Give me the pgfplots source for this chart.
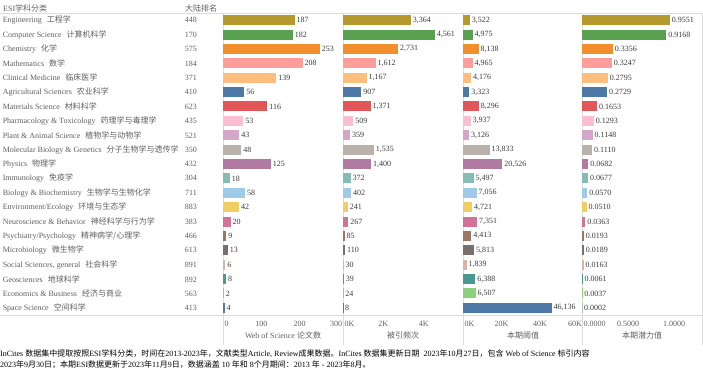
\documentclass[border=0pt]{standalone}
\usepackage{pgfplots}
\pgfplotsset{compat=1.18}
\usepackage{fontspec}
\setmainfont{Liberation Serif}
\newfontfamily\cjk{Noto Sans CJK SC}
\newcommand\zh[1]{{\cjk #1}}
\definecolor{c1}{HTML}{B6992D}
\definecolor{c2}{HTML}{59A14F}
\definecolor{c3}{HTML}{F28E2B}
\definecolor{c4}{HTML}{FF9D9A}
\definecolor{c5}{HTML}{FFBE7D}
\definecolor{c6}{HTML}{4E79A7}
\definecolor{c7}{HTML}{E15759}
\definecolor{c8}{HTML}{FABFD2}
\definecolor{c9}{HTML}{D4A6C8}
\definecolor{c10}{HTML}{BAB0AC}
\definecolor{c11}{HTML}{B07AA1}
\definecolor{c12}{HTML}{86BCB6}
\definecolor{c13}{HTML}{A0CBE8}
\definecolor{c14}{HTML}{F1CE63}
\definecolor{c15}{HTML}{D37295}
\definecolor{c16}{HTML}{9D7660}
\definecolor{c17}{HTML}{79706E}
\definecolor{c18}{HTML}{D7B5A6}
\definecolor{c19}{HTML}{499894}
\definecolor{c20}{HTML}{8CD17D}
\definecolor{c21}{HTML}{4E79A7}
\definecolor{lab}{HTML}{5F5F5F}
\definecolor{num}{HTML}{3A3A3A}
\definecolor{sep}{HTML}{DDDDDD}
\newcommand\fs{\fontsize{8}{9.6}\selectfont}
\newcommand\cat[3]{\makebox[220pt][l]{\color{lab}#1\hspace{5pt}\zh{#2}\hfill #3\hspace{26pt}}}
\newcommand\B[3]{\addplot[fill=#3, draw=none, bar shift=0pt] coordinates {(#1,#2)};}
\pgfplotsset{
  panel/.style={
    anchor=north west, width=120pt, height=302pt, scale only axis,
    xbar, bar width=10pt,
    ymin=0.5, ymax=21.5, y dir=reverse, ytick=\empty,
    xmin=0, enlargelimits=false, clip=false,
    scaled x ticks=false, scaled y ticks=false,
    axis line style={draw=none}, major tick length=0pt, tick style={draw=none},
    nodes near coords, point meta=x,
    every node near coord/.append style={font=\fs, color=num, anchor=west, inner sep=1.8pt},
    ticklabel style={font=\fs, color=lab},
    xticklabel style={anchor=north, inner sep=0pt, yshift=-5.6pt},
    xlabel style={at={(axis description cs:0.5,0)}, anchor=north, yshift=-17pt, inner sep=0pt, font=\fs, color=lab},
    /pgf/number format/assume math mode=true,
    /pgf/number format/fixed,
    /pgf/number format/precision=0,
    /pgf/number format/1000 sep={,},
  }
}
\begin{document}
\begin{tikzpicture}[font=\fs]
% header and frame lines
\node[anchor=west, inner sep=0pt, color=lab] at (3pt,-8pt) {ESI\zh{学科分类}};
\node[anchor=west, inner sep=0pt, color=lab] at (185pt,-8pt) {\zh{大陆排名}};
\draw[sep, line width=0.8pt] (0pt,-13pt) -- (703pt,-13pt);
\draw[sep, line width=0.8pt] (0pt,-315pt) -- (703pt,-315pt);
\foreach \xx in {223,343,463,582,702}{\draw[sep, line width=0.8pt] (\xx pt,-13pt) -- (\xx pt,-345pt);}

% Panel 1
\begin{axis}[panel, at={(223pt,-13pt)}, xmax=313,
  ytick={1,...,21},
  yticklabel style={anchor=east, inner sep=0pt, xshift=0pt},
  yticklabels={\cat{Engineering}{工程学}{448},
    \cat{Computer Science}{计算机科学}{170},
    \cat{Chemistry}{化学}{575},
    \cat{Mathematics}{数学}{184},
    \cat{Clinical Medicine}{临床医学}{371},
    \cat{Agricultural Sciences}{农业科学}{410},
    \cat{Materials Science}{材料科学}{623},
    \cat{Pharmacology \& Toxicology}{药理学与毒理学}{435},
    \cat{Plant \& Animal Science}{植物学与动物学}{521},
    \cat{Molecular Biology \& Genetics}{分子生物学与遗传学}{350},
    \cat{Physics}{物理学}{432},
    \cat{Immunology}{免疫学}{304},
    \cat{Biology \& Biochemistry}{生物学与生物化学}{711},
    \cat{Environment/Ecology}{环境与生态学}{883},
    \cat{Neuroscience \& Behavior}{神经科学与行为学}{383},
    \cat{Psychiatry/Psychology}{精神病学/心理学}{466},
    \cat{Microbiology}{微生物学}{613},
    \cat{Social Sciences, general}{社会科学}{891},
    \cat{Geosciences}{地球科学}{892},
    \cat{Economics \& Business}{经济与商业}{563},
    \cat{Space Science}{空间科学}{413}},
  xtick={0,100,200,300}, xticklabels={\rlap{\hspace{1.5pt}0},100,200,\llap{300\hspace{-4pt}}},
  xlabel={Web of Science \zh{论文数}}]
\B{187}{1}{c1}\B{182}{2}{c2}\B{253}{3}{c3}\B{208}{4}{c4}\B{139}{5}{c5}
\B{56}{6}{c6}\B{116}{7}{c7}\B{53}{8}{c8}\B{43}{9}{c9}\B{48}{10}{c10}
\B{125}{11}{c11}\B{18}{12}{c12}\B{58}{13}{c13}\B{42}{14}{c14}\B{20}{15}{c15}
\B{9}{16}{c16}\B{13}{17}{c17}\B{6}{18}{c18}\B{8}{19}{c19}\B{2}{20}{c20}\B{4}{21}{c21}
\end{axis}

% Panel 2
\begin{axis}[panel, at={(343pt,-13pt)}, xmax=5950,
  xtick={0,2000,4000}, xticklabels={\rlap{\hspace{1.5pt}0K},2K,4K},
  xlabel={\zh{被引频次}}]
\B{3364}{1}{c1}\B{4561}{2}{c2}\B{2731}{3}{c3}\B{1612}{4}{c4}\B{1167}{5}{c5}
\B{907}{6}{c6}\B{1371}{7}{c7}\B{509}{8}{c8}\B{359}{9}{c9}\B{1535}{10}{c10}
\B{1400}{11}{c11}\B{372}{12}{c12}\B{402}{13}{c13}\B{241}{14}{c14}\B{267}{15}{c15}
\B{85}{16}{c16}\B{110}{17}{c17}\B{30}{18}{c18}\B{39}{19}{c19}\B{24}{20}{c20}\B{8}{21}{c21}
\end{axis}

% Panel 3
\begin{axis}[panel, at={(463pt,-13pt)}, xmax=62400,
  xtick={0,20000,40000,60000}, xticklabels={\rlap{\hspace{1.5pt}0K},20K,40K,\llap{60K\hspace{-3.5pt}}},
  xlabel={\zh{本期阈值}}]
\B{3522}{1}{c1}\B{4975}{2}{c2}\B{8138}{3}{c3}\B{4965}{4}{c4}\B{4176}{5}{c5}
\B{3323}{6}{c6}\B{8296}{7}{c7}\B{3937}{8}{c8}\B{3126}{9}{c9}\B{13833}{10}{c10}
\B{20526}{11}{c11}\B{5497}{12}{c12}\B{7056}{13}{c13}\B{4721}{14}{c14}\B{7351}{15}{c15}
\B{4413}{16}{c16}\B{5813}{17}{c17}\B{1839}{18}{c18}\B{6388}{19}{c19}\B{6507}{20}{c20}\B{46136}{21}{c21}
\end{axis}

% Panel 4
\begin{axis}[panel, at={(582pt,-13pt)}, xmax=1.303,
  /pgf/number format/precision=4, /pgf/number format/fixed zerofill,
  xtick={0,0.5,1}, xticklabels={\rlap{\hspace{1.5pt}0.0000},0.5000,1.0000},
  xlabel={\zh{本期潜力值}}]
\B{0.9551}{1}{c1}\B{0.9168}{2}{c2}\B{0.3356}{3}{c3}\B{0.3247}{4}{c4}\B{0.2795}{5}{c5}
\B{0.2729}{6}{c6}\B{0.1653}{7}{c7}\B{0.1293}{8}{c8}\B{0.1148}{9}{c9}\B{0.1110}{10}{c10}
\B{0.0682}{11}{c11}\B{0.0677}{12}{c12}\B{0.0570}{13}{c13}\B{0.0510}{14}{c14}\B{0.0363}{15}{c15}
\B{0.0193}{16}{c16}\B{0.0189}{17}{c17}\B{0.0163}{18}{c18}\B{0.0061}{19}{c19}\B{0.0037}{20}{c20}\B{0.0002}{21}{c21}
\end{axis}

% footnote
\node[anchor=west, inner sep=0pt] at (0pt,-354pt) {InCites \zh{数据集中提取按照}ESI\zh{学科分类，时间在}2013-2023\zh{年，文献类型}Article, Review\zh{成果数据。}InCites \zh{数据集更新日期}\ \ 2023\zh{年}10\zh{月}27\zh{日，包含} Web of Science \zh{标引内容}};
\node[anchor=west, inner sep=0pt] at (0pt,-365pt) {2023\zh{年}9\zh{月}30\zh{日；本期}ESI\zh{数据更新于}2023\zh{年}11\zh{月}9\zh{日，数据涵盖} 10 \zh{年和} 8\zh{个月期间：}2013 \zh{年} - 2023\zh{年}8\zh{月。}};
\pgfresetboundingbox
\useasboundingbox (0pt,0pt) rectangle (703pt,-372pt);
\end{tikzpicture}
\end{document}
